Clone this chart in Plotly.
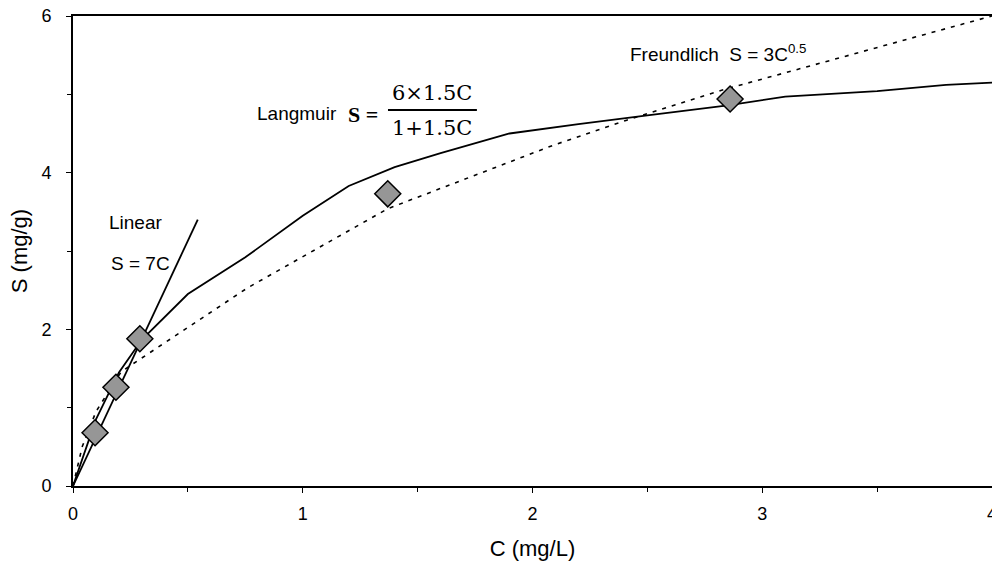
import plotly.graph_objects as go

# Observed data points
data_c = [0.096, 0.187, 0.291, 1.37, 2.86]
data_s = [0.68, 1.26, 1.88, 3.73, 4.94]

# Langmuir curve
lang_c = [0, 0.1, 0.2, 0.3, 0.5, 0.75, 1.0, 1.2, 1.4, 1.6, 1.9, 2.2, 2.5, 2.85, 3.1, 3.5, 3.8, 4.0]
lang_s = [0, 0.85, 1.45, 1.87, 2.45, 2.92, 3.45, 3.83, 4.07, 4.25, 4.5, 4.62, 4.73, 4.86, 4.97, 5.04, 5.12, 5.15]

# Freundlich curve
freu_c = [0, 0.04, 0.1, 0.21, 0.76, 1.37, 2.09, 2.41, 2.82, 4.0]
freu_s = [0, 0.5, 0.95, 1.46, 2.53, 3.54, 4.35, 4.67, 5.05, 6.0]

# Linear isotherm segment
lin_c = [0, 0.543]
lin_s = [0, 3.40]

x_ticks = [0, 1, 2, 3, 4]
y_ticks = [0, 2, 4, 6]

fig = go.Figure()
fig.add_trace(go.Scatter(x=freu_c, y=freu_s, mode="lines",
                         line=dict(color="black", width=1.6, dash="4px,6px"),
                         showlegend=False, hoverinfo="skip"))
fig.add_trace(go.Scatter(x=lang_c, y=lang_s, mode="lines",
                         line=dict(color="black", width=1.8),
                         showlegend=False, hoverinfo="skip"))
fig.add_trace(go.Scatter(x=lin_c, y=lin_s, mode="lines",
                         line=dict(color="black", width=1.8),
                         showlegend=False, hoverinfo="skip"))
fig.add_trace(go.Scatter(x=data_c, y=data_s, mode="markers",
                         marker=dict(symbol="diamond", size=20, color="#969696",
                                     line=dict(color="black", width=1.5)),
                         showlegend=False))

sans = "Liberation Sans, Arial, sans-serif"
serif = "DejaVu Serif, Liberation Serif, serif"
tserif = "Liberation Serif, Times New Roman, serif"

ann = []
def add(text, x, y, size=19, font=sans, xanchor="left", yanchor="middle"):
    ann.append(dict(text=text, x=x, y=y, xref="x", yref="y", showarrow=False,
                    xanchor=xanchor, yanchor=yanchor,
                    font=dict(family=font, size=size, color="black")))

add("Linear", 0.148, 3.36)
add("S = 7C", 0.155, 2.84)
add("Langmuir", 0.79, 4.75)
add("<b>S =</b>", 1.19, 4.74, size=22, font=tserif)
add("6×1.5C", 1.563, 5.02, size=21, font=serif, xanchor="center")
add("1+1.5C", 1.563, 4.57, size=21, font=serif, xanchor="center")
add("Freundlich  S = 3C<sup>0.5</sup>", 2.416, 5.53)

fig.add_shape(type="line", x0=1.371, x1=1.758, y0=4.80, y1=4.80, xref="x", yref="y",
              line=dict(color="black", width=2))

fig.update_layout(
    width=992, height=571,
    margin=dict(l=73, r=0, t=16, b=85),
    paper_bgcolor="white", plot_bgcolor="white",
    annotations=ann,
    font=dict(family=sans, size=19, color="black"),
    xaxis=dict(range=[0, 4], tickvals=x_ticks, ticktext=[str(v) for v in x_ticks],
               showline=True, linecolor="black", linewidth=2, mirror=True,
               ticks="outside", ticklen=5, tickcolor="black", tickwidth=1,
               minor=dict(dtick=0.5, ticks="outside", ticklen=4, tickcolor="black"),
               showgrid=False, zeroline=False, ticklabelstandoff=5,
               ticklabeloverflow="allow", automargin=False,
               title=dict(text="C (mg/L)", font=dict(size=22), standoff=18),
               tickfont=dict(size=18)),
    yaxis=dict(range=[0, 6], tickvals=y_ticks, ticktext=[str(v) for v in y_ticks],
               showline=True, linecolor="black", linewidth=2,
               ticks="outside", ticklen=5, tickcolor="black", tickwidth=1,
               minor=dict(dtick=1, ticks="outside", ticklen=4, tickcolor="black"),
               showgrid=False, zeroline=False, ticklabelstandoff=11,
               ticklabeloverflow="allow", automargin=False,
               title=dict(text="S (mg/g)", font=dict(size=22), standoff=8),
               tickfont=dict(size=18)),
)

fig.write_html("out.html", config={"displayModeBar": False},
               post_script="document.body.style.margin='0';")
